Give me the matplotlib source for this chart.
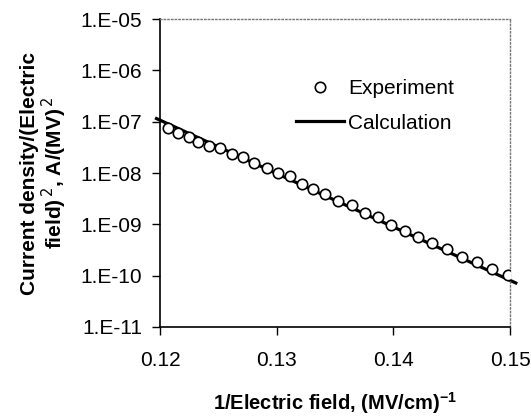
import numpy as np
import matplotlib
matplotlib.use("Agg")
import matplotlib.pyplot as plt

plt.rcParams["font.family"] = ["Liberation Sans", "DejaVu Sans"]

# experiment
inv_field = [0.12069, 0.12154, 0.12249, 0.12326, 0.12420, 0.12514, 0.12617,
             0.12711, 0.12806, 0.12917, 0.13011, 0.13114, 0.13217, 0.13311,
             0.13414, 0.13526, 0.13646, 0.13757, 0.13869, 0.13980, 0.14100,
             0.14211, 0.14331, 0.14460, 0.14589, 0.14717, 0.14846, 0.14983]
j_over_e2 = [7.52e-8, 6.01e-8, 5.02e-8, 4.02e-8, 3.36e-8, 3.07e-8, 2.34e-8,
             2.05e-8, 1.57e-8, 1.25e-8, 1.00e-8, 8.74e-9, 6.10e-9, 4.88e-9,
             3.90e-9, 2.85e-9, 2.38e-9, 1.66e-9, 1.39e-9, 9.70e-10, 7.41e-10,
             5.66e-10, 4.33e-10, 3.31e-10, 2.31e-10, 1.84e-10, 1.35e-10, 1.03e-10]

# calculation (straight line on the FN plot)
calc_x = [0.1197, 0.1505]
calc_y = [1.15e-7, 7.2e-11]

yticks = [1e-5, 1e-6, 1e-7, 1e-8, 1e-9, 1e-10, 1e-11]
ytick_labels = ["1.E-05", "1.E-06", "1.E-07", "1.E-08", "1.E-09", "1.E-10", "1.E-11"]
xticks = [0.12, 0.13, 0.14, 0.15]
xtick_labels = ["0.12", "0.13", "0.14", "0.15"]

fig = plt.figure(figsize=(5.31, 4.18), dpi=100)
ax = fig.add_axes([160/531, 1-327/418, 350/531, 308/418])

ax.plot(inv_field, j_over_e2, "o", ms=7.5, mfc="white", mec="black", mew=1.2,
        label="Experiment", zorder=3)
ax.plot(calc_x, calc_y, "-", color="black", lw=2.3, label="Calculation",
        clip_on=False, zorder=2)

ax.set_yscale("log")
ax.set_xlim(0.12, 0.15)
ax.set_ylim(1e-11, 1e-5)
ax.set_yticks(yticks)
ax.set_yticklabels(ytick_labels)
ax.minorticks_off()
ax.set_xticks(xticks)
ax.set_xticklabels(xtick_labels)
ax.tick_params(axis="both", direction="out", length=6, width=1, labelsize=15)
ax.tick_params(axis="x", pad=11)
ax.tick_params(axis="y", pad=7)

for s in ["top", "right"]:
    ax.spines[s].set_linestyle(":")
    ax.spines[s].set_color("#777777")
    ax.spines[s].set_linewidth(1)
for s in ["left", "bottom"]:
    ax.spines[s].set_linewidth(1.2)

ax.set_ylabel("Current density/(Electric\nfield)$^{\\,2}$, A/(MV)$^{\\,2}$",
              fontsize=15, fontweight="bold", labelpad=8, linespacing=1.05)
ax.set_xlabel("1/Electric field, (MV/cm)$^{\\mathregular{-1}}$", fontsize=14.5,
              fontweight="bold", labelpad=15)

ax.legend(loc="center", bbox_to_anchor=(0.614, 0.718), frameon=False,
          fontsize=15, numpoints=1, handlelength=2.3, handletextpad=0.2,
          labelspacing=0.75)

fig.savefig("out.png", dpi=100)
